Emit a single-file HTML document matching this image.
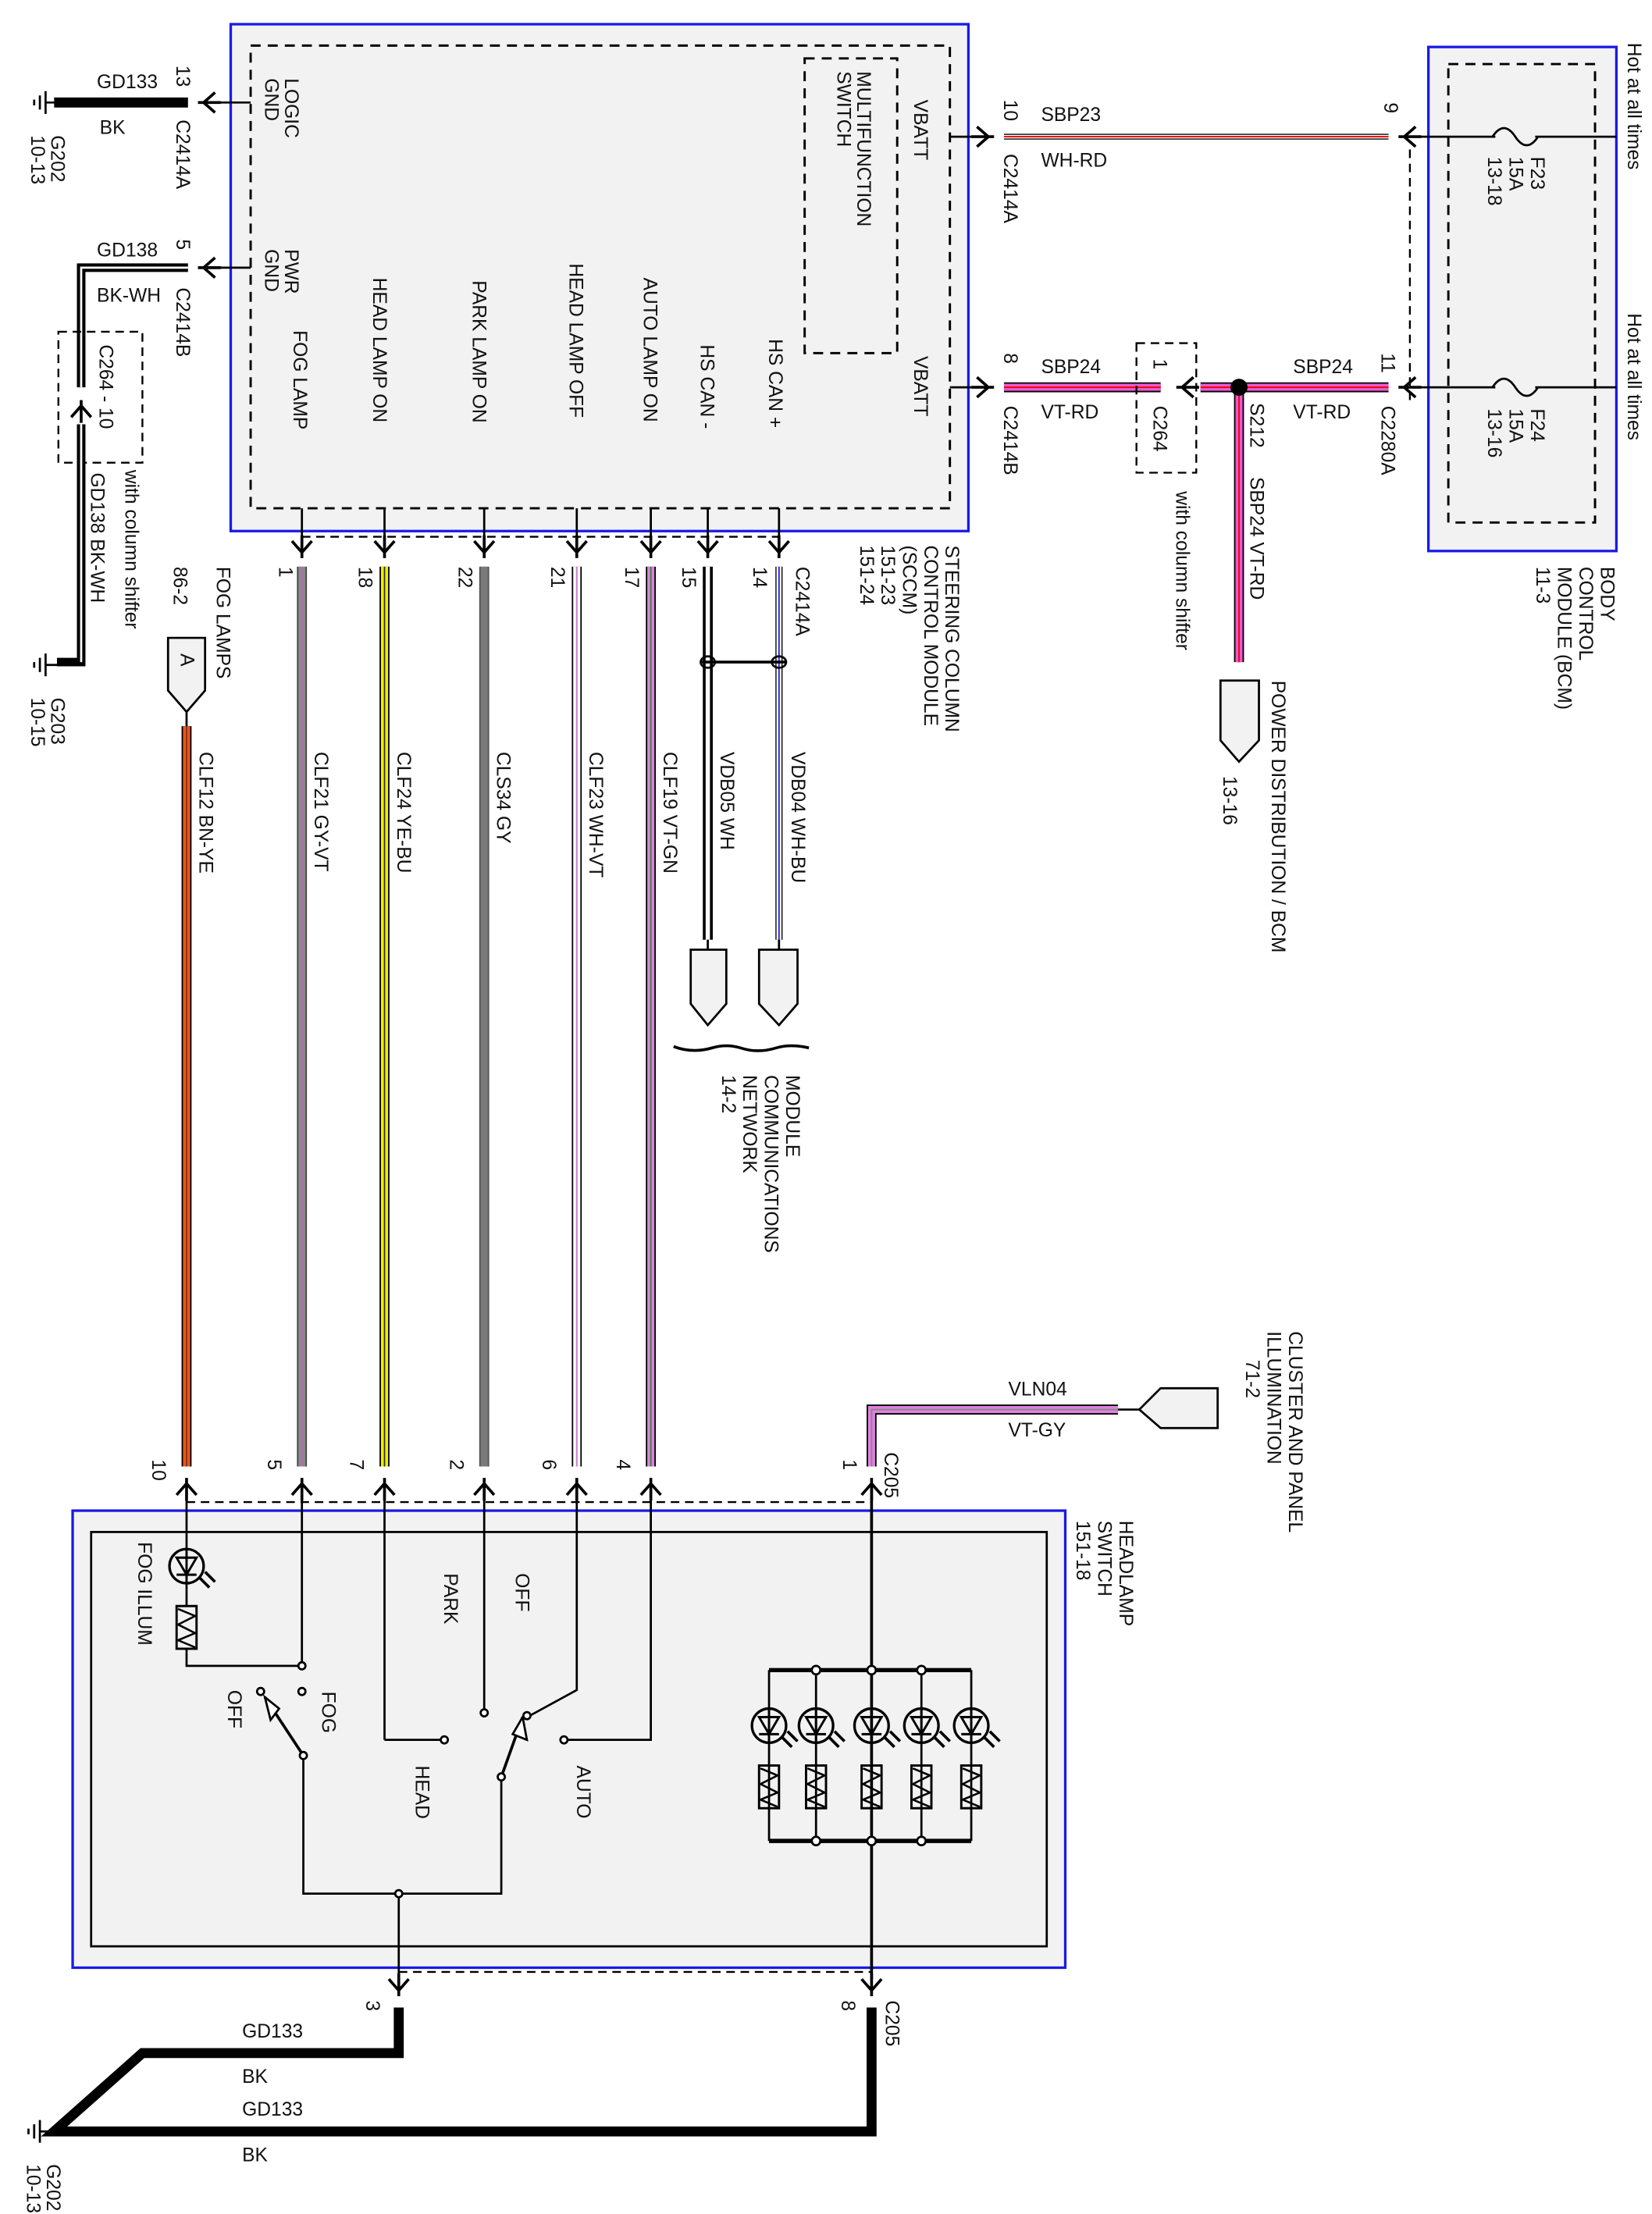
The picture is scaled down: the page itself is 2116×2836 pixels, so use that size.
<!DOCTYPE html>
<html><head><meta charset="utf-8"><style>
html,body{margin:0;padding:0;background:#fff;}
svg{display:block;}
text{font-family:"Liberation Sans",sans-serif;font-size:13.5px;fill:#111;}
</style></head><body>
<svg width="2116" height="2836" viewBox="0 0 1160 1555" preserveAspectRatio="none" xmlns="http://www.w3.org/2000/svg">
<defs>
<g id="arrD"><path d="M-7,-8 L0,0 L7,-8 M0,-12 L0,4" fill="none" stroke="#000" stroke-width="2"/></g>
<g id="arrU"><path d="M-7,8 L0,0 L7,8 M0,12 L0,-4" fill="none" stroke="#000" stroke-width="2"/></g>
<g id="arrL"><path d="M8,-7 L0,0 L8,7 M12,0 L-4,0" fill="none" stroke="#000" stroke-width="2"/></g>
<g id="arrR"><path d="M-8,-7 L0,0 L-8,7 M-12,0 L4,0" fill="none" stroke="#000" stroke-width="2"/></g>
<g id="led"><circle r="12" fill="none" stroke="#000" stroke-width="1.8"/><path d="M-7,-6 L7,-6 L0,6 Z M-7,6 L7,6 M0,-12 L0,12" fill="none" stroke="#000" stroke-width="1.6"/><path d="M9,8 L16,15 M13,4 L20,11" stroke="#000" stroke-width="2"/></g>
<g id="res"><rect x="-7" y="-15" width="14" height="30" fill="none" stroke="#000" stroke-width="1.6"/><path d="M-6,-13 L6,-8 L-6,-2 L6,4 L-6,9 L6,14" fill="none" stroke="#000" stroke-width="1.4"/></g>
<g id="gnd"><path d="M8,0 L-2,0 M-2,-8 L-2,8 M-6,-5 L-6,5 M-10,-2 L-10,2" stroke="#000" stroke-width="1.5" fill="none"/></g>
</defs>

<!-- SCCM -->
<rect x="162" y="17" width="518" height="356" fill="#f2f2f2" stroke="#1a1ae6" stroke-width="1.8"/>
<rect x="176" y="32" width="491" height="325" fill="none" stroke="#000" stroke-width="1.6" stroke-dasharray="7,5"/>
<rect x="565" y="41" width="65" height="207" fill="none" stroke="#000" stroke-width="1.6" stroke-dasharray="7,5"/>
<g>
<text transform="translate(200,55) rotate(90)">LOGIC</text>
<text transform="translate(186,55) rotate(90)">GND</text>
<text transform="translate(200,175) rotate(90)">PWR</text>
<text transform="translate(186,175) rotate(90)">GND</text>
<text transform="translate(206,232) rotate(90)">FOG LAMP</text>
<text transform="translate(262,195) rotate(90)">HEAD LAMP ON</text>
<text transform="translate(332,197) rotate(90)">PARK LAMP ON</text>
<text transform="translate(400,185) rotate(90)">HEAD LAMP OFF</text>
<text transform="translate(452,195) rotate(90)">AUTO LAMP ON</text>
<text transform="translate(492,242) rotate(90)">HS CAN -</text>
<text transform="translate(540,238) rotate(90)">HS CAN +</text>
<text transform="translate(602,50) rotate(90)">MULTIFUNCTION</text>
<text transform="translate(588,50) rotate(90)">SWITCH</text>
<text transform="translate(642,70) rotate(90)">VBATT</text>
<text transform="translate(642,250) rotate(90)">VBATT</text>
<text transform="translate(664,383) rotate(90)">STEERING COLUMN</text>
<text transform="translate(649,383) rotate(90)">CONTROL MODULE</text>
<text transform="translate(634,383) rotate(90)">(SCCM)</text>
<text transform="translate(619,383) rotate(90)">151-23</text>
<text transform="translate(604,383) rotate(90)">151-24</text>
</g>

<!-- left grounds -->
<line x1="176" y1="72" x2="150" y2="72" stroke="#000" stroke-width="1.5"/>
<use href="#arrL" x="143" y="72"/>
<line x1="38" y1="72" x2="132" y2="72" stroke="#000" stroke-width="7"/>
<use href="#gnd" x="34" y="72"/>
<text x="68" y="62">GD133</text><text transform="translate(124,46) rotate(90)">13</text>
<text x="70" y="94">BK</text>
<text transform="translate(124,84) rotate(90)">C2414A</text>
<text transform="translate(36,95) rotate(90)">G202</text>
<text transform="translate(22,95) rotate(90)">10-13</text>

<line x1="176" y1="188" x2="150" y2="188" stroke="#000" stroke-width="1.5"/>
<use href="#arrL" x="143" y="188"/>
<path d="M132,188 L57,188 L57,272" fill="none" stroke="#000" stroke-width="6"/>
<path d="M132,188 L57,188 L57,272" fill="none" stroke="#fff" stroke-width="1.5"/>
<rect x="41" y="233" width="59" height="92" fill="none" stroke="#000" stroke-width="1.3" stroke-dasharray="6,4"/>
<use href="#arrU" x="57" y="285"/>
<path d="M57,298 L57,465 L40,465" fill="none" stroke="#000" stroke-width="6"/>
<path d="M57,298 L57,465" fill="none" stroke="#fff" stroke-width="1.5"/>
<use href="#gnd" x="34" y="467"/>
<text x="68" y="180">GD138</text><text transform="translate(124,168) rotate(90)">5</text>
<text x="68" y="212">BK-WH</text>
<text transform="translate(124,202) rotate(90)">C2414B</text>
<text transform="translate(70,242) rotate(90)">C264  -  10</text>
<text transform="translate(88,330) rotate(90)">with column shifter</text>
<text transform="translate(64,332) rotate(90)">GD138   BK-WH</text>
<text transform="translate(36,490) rotate(90)">G203</text>
<text transform="translate(22,490) rotate(90)">10-15</text>

<!-- top power wires -->
<line x1="667" y1="96" x2="686" y2="96" stroke="#000" stroke-width="1.5"/>
<use href="#arrR" x="694" y="96"/>
<line x1="705" y1="96" x2="975" y2="96" stroke="#000" stroke-width="4"/>
<line x1="705" y1="96" x2="975" y2="96" stroke="#fff" stroke-width="2.5"/>
<line x1="705" y1="96" x2="975" y2="96" stroke="#e00" stroke-width="1"/>
<text transform="translate(705,70) rotate(90)">10</text>
<text x="731" y="85">SBP23</text><text x="731" y="117">WH-RD</text>
<text transform="translate(705,108) rotate(90)">C2414A</text>
<text transform="translate(972,72) rotate(90)">9</text>
<use href="#arrL" x="986" y="96"/>

<line x1="667" y1="272" x2="686" y2="272" stroke="#000" stroke-width="1.5"/>
<use href="#arrR" x="694" y="272"/>
<g stroke-linecap="butt">
<line x1="705" y1="272" x2="815" y2="272" stroke="#000" stroke-width="7"/>
<line x1="705" y1="272" x2="815" y2="272" stroke="#e85ad0" stroke-width="5"/>
<line x1="705" y1="272" x2="815" y2="272" stroke="#e00" stroke-width="1"/>
<line x1="843" y1="272" x2="975" y2="272" stroke="#000" stroke-width="7"/>
<line x1="843" y1="272" x2="975" y2="272" stroke="#e85ad0" stroke-width="5"/>
<line x1="843" y1="272" x2="975" y2="272" stroke="#e00" stroke-width="1"/>
<line x1="870" y1="272" x2="870" y2="465" stroke="#000" stroke-width="7"/>
<line x1="870" y1="272" x2="870" y2="465" stroke="#e85ad0" stroke-width="5"/>
<line x1="870" y1="272" x2="870" y2="465" stroke="#e00" stroke-width="1"/>
</g>
<rect x="798" y="241" width="42" height="91" fill="none" stroke="#000" stroke-width="1.3" stroke-dasharray="6,4"/>
<use href="#arrL" x="830" y="272"/>
<circle cx="870" cy="272" r="6" fill="#000"/>
<text transform="translate(705,248) rotate(90)">8</text>
<text x="731" y="262">SBP24</text><text x="731" y="294">VT-RD</text>
<text transform="translate(705,285) rotate(90)">C2414B</text>
<text transform="translate(810,252) rotate(90)">1</text>
<text transform="translate(810,285) rotate(90)">C264</text>
<text transform="translate(826,345) rotate(90)">with column shifter</text>
<text transform="translate(878,283) rotate(90)">S212</text>
<text transform="translate(878,335) rotate(90)">SBP24   VT-RD</text>
<text x="908" y="262">SBP24</text><text x="908" y="294">VT-RD</text>
<text transform="translate(970,248) rotate(90)">11</text>
<text transform="translate(970,285) rotate(90)">C2280A</text>
<use href="#arrL" x="986" y="272"/>
<path d="M857,478 L884,478 L884,520 L870,535 L857,520 Z" fill="#f2f2f2" stroke="#000" stroke-width="1.5"/>
<text transform="translate(893,478) rotate(90)">POWER DISTRIBUTION / BCM</text>
<text transform="translate(859,545) rotate(90)">13-16</text>

<!-- BCM -->
<rect x="1003" y="33" width="132" height="354" fill="#f2f2f2" stroke="#1a1ae6" stroke-width="1.8"/>
<rect x="1017" y="45" width="103" height="322" fill="none" stroke="#000" stroke-width="1.6" stroke-dasharray="7,5"/>
<line x1="990" y1="105" x2="990" y2="285" stroke="#000" stroke-width="1.3" stroke-dasharray="6,4"/>
<line x1="998" y1="96" x2="1050" y2="96" stroke="#000" stroke-width="1.5"/>
<line x1="1078" y1="96" x2="1135" y2="96" stroke="#000" stroke-width="1.5"/>
<line x1="998" y1="272" x2="1050" y2="272" stroke="#000" stroke-width="1.5"/>
<line x1="1078" y1="272" x2="1135" y2="272" stroke="#000" stroke-width="1.5"/>
<path d="M1048,96 Q1056,84 1064,96 Q1072,108 1080,96" fill="none" stroke="#000" stroke-width="1.5"/>
<path d="M1048,272 Q1056,260 1064,272 Q1072,284 1080,272" fill="none" stroke="#000" stroke-width="1.5"/>
<text transform="translate(1075,110) rotate(90)">F23</text>
<text transform="translate(1060,110) rotate(90)">15A</text>
<text transform="translate(1045,110) rotate(90)">13-18</text>
<text transform="translate(1075,287) rotate(90)">F24</text>
<text transform="translate(1060,287) rotate(90)">15A</text>
<text transform="translate(1045,287) rotate(90)">13-16</text>
<text transform="translate(1143,30) rotate(90)">Hot at all times</text>
<text transform="translate(1143,220) rotate(90)">Hot at all times</text>
<text transform="translate(1124,398) rotate(90)">BODY</text>
<text transform="translate(1109,398) rotate(90)">CONTROL</text>
<text transform="translate(1094,398) rotate(90)">MODULE (BCM)</text>
<text transform="translate(1079,398) rotate(90)">11-3</text>

<!-- SCCM bottom pins -->
<line x1="212" y1="377" x2="547" y2="377" stroke="#000" stroke-width="1.3" stroke-dasharray="6,4"/>
<g stroke="#000" stroke-width="1.5">
<line x1="212" y1="357" x2="212" y2="380"/><line x1="270" y1="357" x2="270" y2="380"/><line x1="340" y1="357" x2="340" y2="380"/><line x1="405" y1="357" x2="405" y2="380"/><line x1="457" y1="357" x2="457" y2="380"/><line x1="497" y1="357" x2="497" y2="380"/><line x1="547" y1="357" x2="547" y2="380"/>
</g>
<use href="#arrD" x="212" y="388"/><use href="#arrD" x="270" y="388"/><use href="#arrD" x="340" y="388"/><use href="#arrD" x="405" y="388"/><use href="#arrD" x="457" y="388"/><use href="#arrD" x="497" y="388"/><use href="#arrD" x="547" y="388"/>
<text transform="translate(196,398) rotate(90)">1</text>
<text transform="translate(252,398) rotate(90)">18</text>
<text transform="translate(322,398) rotate(90)">22</text>
<text transform="translate(387,398) rotate(90)">21</text>
<text transform="translate(439,398) rotate(90)">17</text>
<text transform="translate(479,398) rotate(90)">15</text>
<text transform="translate(529,398) rotate(90)">14</text>
<text transform="translate(559,398) rotate(90)">C2414A</text>

<!-- vertical wires -->
<g stroke-linecap="butt">
<line x1="131" y1="510" x2="131" y2="1030" stroke="#000" stroke-width="7"/>
<line x1="131" y1="510" x2="131" y2="1030" stroke="#e8581a" stroke-width="5"/>
<line x1="131" y1="510" x2="131" y2="1030" stroke="#8a3010" stroke-width="1"/>
<line x1="212" y1="398" x2="212" y2="1030" stroke="#444" stroke-width="7"/>
<line x1="212" y1="398" x2="212" y2="1030" stroke="#8a8a8a" stroke-width="5"/>
<line x1="212" y1="398" x2="212" y2="1030" stroke="#b070b0" stroke-width="1.2"/>
<line x1="270" y1="398" x2="270" y2="1030" stroke="#000" stroke-width="7"/>
<line x1="270" y1="398" x2="270" y2="1030" stroke="#f0f000" stroke-width="5"/>
<line x1="270" y1="398" x2="270" y2="1030" stroke="#333" stroke-width="1"/>
<line x1="340" y1="398" x2="340" y2="1030" stroke="#555" stroke-width="7"/>
<line x1="340" y1="398" x2="340" y2="1030" stroke="#7a7a7a" stroke-width="5"/>
<line x1="405" y1="398" x2="405" y2="1030" stroke="#000" stroke-width="7"/>
<line x1="405" y1="398" x2="405" y2="1030" stroke="#fff" stroke-width="5"/>
<line x1="405" y1="398" x2="405" y2="1030" stroke="#d080d0" stroke-width="1.2"/>
<line x1="457" y1="398" x2="457" y2="1030" stroke="#000" stroke-width="7"/>
<line x1="457" y1="398" x2="457" y2="1030" stroke="#e080e0" stroke-width="5"/>
<line x1="457" y1="398" x2="457" y2="1030" stroke="#2a8a2a" stroke-width="1"/>
<line x1="497" y1="398" x2="497" y2="660" stroke="#000" stroke-width="7"/>
<line x1="497" y1="398" x2="497" y2="660" stroke="#fff" stroke-width="3"/>
<line x1="547" y1="398" x2="547" y2="660" stroke="#000" stroke-width="5"/>
<line x1="547" y1="398" x2="547" y2="660" stroke="#fff" stroke-width="3.5"/>
<line x1="547" y1="398" x2="547" y2="660" stroke="#2020d0" stroke-width="1"/>
</g>
<path d="M492,465 L552,465" stroke="#000" stroke-width="2"/>
<ellipse cx="497" cy="465" rx="5" ry="4" fill="none" stroke="#000" stroke-width="1.5"/>
<ellipse cx="547" cy="465" rx="5" ry="4" fill="none" stroke="#000" stroke-width="1.5"/>
<line x1="497" y1="660" x2="497" y2="667" stroke="#000" stroke-width="1.5"/>
<line x1="547" y1="660" x2="547" y2="667" stroke="#000" stroke-width="1.5"/>
<path d="M485,667 L510,667 L510,705 L497,720 L485,705 Z" fill="#f2f2f2" stroke="#000" stroke-width="1.5"/>
<path d="M533,667 L560,667 L560,705 L547,720 L533,705 Z" fill="#f2f2f2" stroke="#000" stroke-width="1.5"/>
<path d="M473,735 Q486,740 500,736 Q510,733 520,736 Q532,740 545,736 Q555,733 568,736" fill="none" stroke="#000" stroke-width="2"/>
<text transform="translate(552,755) rotate(90)">MODULE</text>
<text transform="translate(537,755) rotate(90)">COMMUNICATIONS</text>
<text transform="translate(522,755) rotate(90)">NETWORK</text>
<text transform="translate(507,755) rotate(90)">14-2</text>

<!-- fog lamps connector -->
<path d="M118,448 L144,448 L144,485 L131,500 L118,485 Z" fill="#f2f2f2" stroke="#000" stroke-width="1.5"/>
<text transform="translate(127,459) rotate(90)">A</text>
<line x1="131" y1="500" x2="131" y2="510" stroke="#000" stroke-width="1.5"/>
<text transform="translate(152,398) rotate(90)">FOG LAMPS</text>
<text transform="translate(122,398) rotate(90)">86-2</text>

<!-- wire labels -->
<text transform="translate(140,528) rotate(90)">CLF12   BN-YE</text>
<text transform="translate(221,528) rotate(90)">CLF21   GY-VT</text>
<text transform="translate(279,528) rotate(90)">CLF24   YE-BU</text>
<text transform="translate(349,528) rotate(90)">CLS34   GY</text>
<text transform="translate(414,528) rotate(90)">CLF23   WH-VT</text>
<text transform="translate(466,528) rotate(90)">CLF19   VT-GN</text>
<text transform="translate(506,528) rotate(90)">VDB05   WH</text>
<text transform="translate(556,528) rotate(90)">VDB04   WH-BU</text>

<!-- cluster illum -->
<g stroke-linecap="butt">
<path d="M612,1030 L612,990 L785,990" fill="none" stroke="#000" stroke-width="7"/>
<path d="M612,1030 L612,990 L785,990" fill="none" stroke="#e080e0" stroke-width="5"/>
<path d="M612,1030 L612,990 L785,990" fill="none" stroke="#888" stroke-width="1"/>
</g>
<line x1="785" y1="990" x2="800" y2="990" stroke="#000" stroke-width="1.5"/>
<path d="M855,975 L815,975 L800,990 L815,1003 L855,1003 Z" fill="#f2f2f2" stroke="#000" stroke-width="1.5"/>
<text x="708" y="980">VLN04</text><text x="708" y="1009">VT-GY</text>
<text transform="translate(905,935) rotate(90)">CLUSTER AND PANEL</text>
<text transform="translate(890,935) rotate(90)">ILLUMINATION</text>
<text transform="translate(875,955) rotate(90)">71-2</text>

<!-- headlamp switch -->
<rect x="51" y="1061" width="697" height="321" fill="#f2f2f2" stroke="#1a1ae6" stroke-width="1.8"/>
<rect x="64" y="1076" width="671" height="291" fill="none" stroke="#000" stroke-width="1.5"/>
<line x1="131" y1="1055" x2="612" y2="1055" stroke="#000" stroke-width="1.3" stroke-dasharray="6,4"/>
<use href="#arrU" x="131" y="1042"/><use href="#arrU" x="212" y="1042"/><use href="#arrU" x="270" y="1042"/><use href="#arrU" x="340" y="1042"/><use href="#arrU" x="405" y="1042"/><use href="#arrU" x="457" y="1042"/><use href="#arrU" x="612" y="1042"/>
<text transform="translate(107,1025) rotate(90)">10</text>
<text transform="translate(188,1025) rotate(90)">5</text>
<text transform="translate(246,1025) rotate(90)">7</text>
<text transform="translate(316,1025) rotate(90)">2</text>
<text transform="translate(381,1025) rotate(90)">6</text>
<text transform="translate(433,1025) rotate(90)">4</text>
<text transform="translate(592,1025) rotate(90)">1</text>
<text transform="translate(621,1020) rotate(90)">C205</text>
<text transform="translate(786,1068) rotate(90)">HEADLAMP</text>
<text transform="translate(771,1068) rotate(90)">SWITCH</text>
<text transform="translate(756,1068) rotate(90)">151-18</text>

<g stroke="#000" stroke-width="1.5" fill="none">
<line x1="131" y1="1045" x2="131" y2="1088"/>
<line x1="131" y1="1112" x2="131" y2="1128"/>
<path d="M131,1158 L131,1170 L212,1170"/>
<line x1="212" y1="1045" x2="212" y2="1170"/>
<line x1="270" y1="1045" x2="270" y2="1222"/><line x1="270" y1="1222" x2="310" y2="1222"/>
<line x1="340" y1="1045" x2="340" y2="1200"/>
<path d="M405,1045 L405,1187 L372,1205"/>
<path d="M457,1045 L457,1222 L398,1222"/>
<path d="M213,1233 L213,1330 L352,1330 L352,1248"/>
<line x1="213" y1="1233" x2="186" y2="1192" stroke-width="2"/>
<line x1="352" y1="1248" x2="367" y2="1206" stroke-width="2"/>
<line x1="280" y1="1330" x2="280" y2="1390"/>
<line x1="612" y1="1045" x2="612" y2="1390" stroke-width="2"/>
</g>
<path d="M186,1192 L196,1200 L190,1208 Z" fill="#fff" stroke="#000" stroke-width="1.5"/>
<path d="M367,1206 L370,1222 L360,1218 Z" fill="#fff" stroke="#000" stroke-width="1.5"/>
<g fill="#fff" stroke="#000" stroke-width="1.5">
<circle cx="212" cy="1170" r="2.5"/><circle cx="212" cy="1188" r="2.5"/><circle cx="183" cy="1188" r="2.5"/><circle cx="213" cy="1233" r="2.5"/>
<circle cx="312" cy="1222" r="2.5"/><circle cx="340" cy="1203" r="2.5"/><circle cx="370" cy="1205" r="2.5"/><circle cx="396" cy="1222" r="2.5"/><circle cx="352" cy="1248" r="2.5"/><circle cx="280" cy="1330" r="2.5"/>
</g>
<use href="#led" x="131" y="1100"/>
<use href="#res" x="131" y="1143"/>
<text transform="translate(97,1083) rotate(90)">FOG ILLUM</text>
<text transform="translate(160,1187) rotate(90)">OFF</text>
<text transform="translate(226,1188) rotate(90)">FOG</text>
<text transform="translate(312,1105) rotate(90)">PARK</text>
<text transform="translate(362,1105) rotate(90)">OFF</text>
<text transform="translate(292,1240) rotate(90)">HEAD</text>
<text transform="translate(405,1240) rotate(90)">AUTO</text>

<!-- LED array -->
<g stroke="#000" fill="none">
<line x1="540" y1="1173" x2="682" y2="1173" stroke-width="3"/>
<line x1="540" y1="1293" x2="682" y2="1293" stroke-width="3"/>
<g stroke-width="1.5">
<line x1="540" y1="1173" x2="540" y2="1293"/><line x1="573" y1="1173" x2="573" y2="1293"/><line x1="647" y1="1173" x2="647" y2="1293"/><line x1="682" y1="1173" x2="682" y2="1293"/>
</g>
</g>
<use href="#led" x="540" y="1212"/><use href="#led" x="573" y="1212"/><use href="#led" x="612" y="1212"/><use href="#led" x="647" y="1212"/><use href="#led" x="682" y="1212"/>
<use href="#res" x="540" y="1255"/><use href="#res" x="573" y="1255"/><use href="#res" x="612" y="1255"/><use href="#res" x="647" y="1255"/><use href="#res" x="682" y="1255"/>
<g fill="#fff" stroke="#000" stroke-width="1.5">
<circle cx="573" cy="1173" r="3"/><circle cx="612" cy="1173" r="3"/><circle cx="647" cy="1173" r="3"/>
<circle cx="573" cy="1293" r="3"/><circle cx="612" cy="1293" r="3"/><circle cx="647" cy="1293" r="3"/>
</g>

<!-- bottom grounds -->
<line x1="280" y1="1385" x2="612" y2="1385" stroke="#000" stroke-width="1.3" stroke-dasharray="6,4"/>
<use href="#arrD" x="280" y="1398"/><use href="#arrD" x="612" y="1398"/>
<path d="M280,1410 L280,1442 L100,1442 L38,1497 L612,1497 L612,1410" fill="none" stroke="#000" stroke-width="7" stroke-linejoin="miter"/>
<use href="#gnd" x="30" y="1497"/>
<text transform="translate(257,1405) rotate(90)">3</text>
<text transform="translate(591,1405) rotate(90)">8</text>
<text transform="translate(622,1405) rotate(90)">C205</text>
<text x="170" y="1431">GD133</text><text x="170" y="1463">BK</text>
<text x="170" y="1486">GD133</text><text x="170" y="1518">BK</text>
<text transform="translate(33,1520) rotate(90)">G202</text>
<text transform="translate(19,1520) rotate(90)">10-13</text>
</svg>
</body></html>
